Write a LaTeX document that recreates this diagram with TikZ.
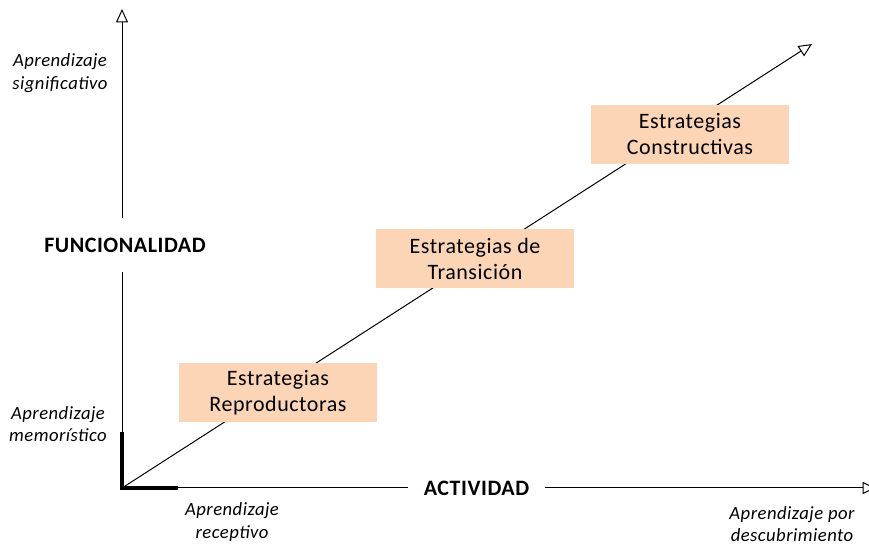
\documentclass[tikz,border=0pt]{standalone}
\usepackage{fontspec}
\setmainfont[LetterSpace=2.5]{Carlito}
\usepackage{tikz}
\usetikzlibrary{arrows.meta,positioning,calc}

\definecolor{durazno}{RGB}{251,213,181}

\tikzset{
  estrategia/.style={fill=durazno,draw=none,minimum width=148.5pt,minimum height=44pt,
                     align=center,font=\fontsize{16.5}{19.5}\selectfont},
  eje/.style={line width=0.75pt},
  flecha/.style={-{Triangle[open,length=10pt,width=9pt]}},
  rotulo/.style={align=center,font=\fontsize{14}{16.8}\selectfont\itshape},
  titulo/.style={font=\fontsize{16.5}{19}\selectfont\bfseries,inner sep=0pt}
}

\begin{document}
\begin{tikzpicture}[x=0.75pt,y=-0.75pt]
\useasboundingbox (0,0) rectangle (869,545);

% ejes
\coordinate (o) at (122,488);
\coordinate (ytop) at (122,9);
\coordinate (xend) at (876,488);
\coordinate (diag) at (812,44);

\node[titulo,minimum height=40.5pt] (func) at (125,245) {FUNCIONALIDAD};
\node[titulo,minimum width=103pt] (activ) at (476.5,488) {ACTIVIDAD};

\draw[eje] (o) -- (o |- func.south);
\draw[eje,flecha] (o |- func.north) -- (ytop);
\draw[eje] (o) -- (activ.west |- o);
\draw[eje,flecha] (activ.east |- o) -- (xend);

% diagonal
\draw[eje,flecha] (o) -- (diag);

% tramos gruesos
\coordinate (ycorta) at (122,432);
\coordinate (xcorta) at (178,488);
\draw[line width=3pt] (ycorta) -- (o) -- (xcorta);

% estrategias
\node[estrategia] (repro) at (278,392.5) {Estrategias\\Reproductoras};
\node[estrategia] (trans) at (475,258.5) {Estrategias de\\Transición};
\node[estrategia] (const) at (690,134.5) {Estrategias\\Constructivas};

% rotulos
\node[rotulo] (signif) at (60,73) {Aprendizaje\\significativo};
\node[rotulo] (memor) at (58,424) {Aprendizaje\\memorístico};
\node[rotulo] (recep) at (232,522) {Aprendizaje\\receptivo};
\node[rotulo] (descub) at (792,524) {Aprendizaje por\\descubrimiento};

\end{tikzpicture}
\end{document}
